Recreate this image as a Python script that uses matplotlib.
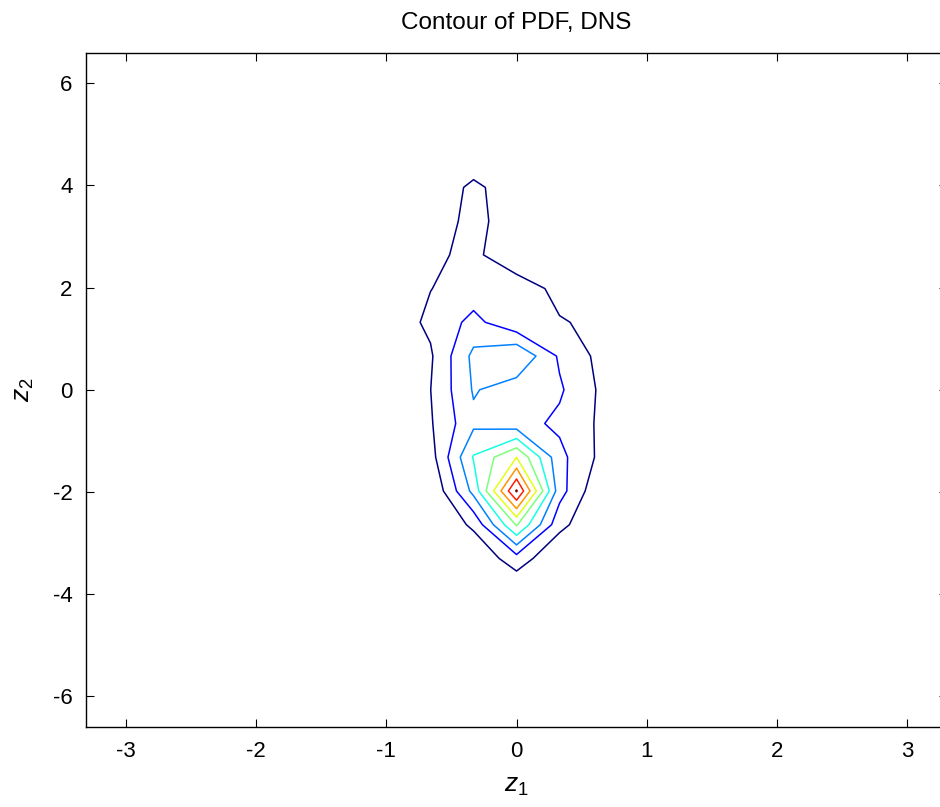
import numpy as np
import matplotlib
matplotlib.use('Agg')
import matplotlib.pyplot as plt

plt.rcParams['font.family'] = ['Liberation Sans', 'DejaVu Sans']
plt.rcParams['mathtext.fontset'] = 'custom'
plt.rcParams['mathtext.it'] = 'Liberation Sans:italic'
plt.rcParams['mathtext.rm'] = 'Liberation Sans'
plt.rcParams['axes.unicode_minus'] = False

# grid the PDF was evaluated on (21 x 21 points)
z1 = np.linspace(-3.3, 3.3, 21)
z2 = np.linspace(-6.6, 6.6, 21)

# non-zero part of the PDF (1 unit = one contour step), read off the contour crossings
block_z1 = [-0.99, -0.66, -0.33, 0.0, 0.33, 0.66, 0.99]
block_z2 = [4.62, 3.96, 3.30, 2.64, 1.98, 1.32, 0.66, 0.0,
            -0.66, -1.32, -1.98, -2.64, -3.30, -3.96]
pdf_block = [
    [0.00, 0.00, 0.00, 0.00, 0.00,  0.00, 0.00],
    [0.00, 0.00, 1.30, 0.21, 0.00,  0.00, 0.00],
    [0.00, 0.00, 1.55, 0.00, 0.00,  0.00, 0.00],
    [0.00, 0.76, 1.30, 0.00, 0.00,  0.00, 0.00],
    [0.00, 0.98, 1.44, 1.74, 0.62,  0.00, 0.00],
    [0.34, 1.21, 2.30, 1.21, 1.095, 0.71, 0.00],
    [0.00, 0.87, 3.25, 3.95, 1.85,  0.67, 0.00],
    [0.00, 0.99, 3.09, 2.46, 2.14,  0.79, 0.00],
    [0.00, 0.90, 2.78, 2.40, 1.79,  0.80, 0.00],
    [0.00, 0.58, 4.08, 6.00, 2.30,  0.70, 0.00],
    [0.00, 0.02, 3.30, 9.10, 2.40,  0.05, 0.00],
    [0.00, 0.00, 1.20, 5.10, 1.30,  0.00, 0.00],
    [0.00, 0.00, 0.12, 1.60, 0.04,  0.00, 0.00],
    [0.00, 0.00, 0.00, 0.00, 0.00,  0.00, 0.00],
]
pdf_levels = [1, 2, 3, 4, 5, 6, 7, 8, 9]

# put the block into the full grid
pdf = np.zeros((len(z2), len(z1)))
for r, yv in enumerate(block_z2):
    i = np.argmin(np.abs(z2 - yv))
    for c, xv in enumerate(block_z1):
        j = np.argmin(np.abs(z1 - xv))
        pdf[i, j] = pdf_block[r][c]

fig = plt.figure(figsize=(9.4, 8.07), dpi=100)
ax = fig.add_axes([0.092, 0.0991, 0.915, 0.8358])

line_colors = plt.cm.jet(np.linspace(0, 1, len(pdf_levels)))
ax.contour(z1, z2, pdf, levels=pdf_levels, colors=line_colors, linewidths=1.1)

ax.set_xlim(-3.3, 3.3)
ax.set_ylim(-6.6, 6.6)
ax.set_xticks([-3, -2, -1, 0, 1, 2, 3])
ax.set_yticks([-6, -4, -2, 0, 2, 4, 6])
ax.tick_params(direction='in', length=6, width=0.8, top=True, right=True,
               labelsize=16, pad=10)
for s in ax.spines.values():
    s.set_linewidth(1.0)

ax.set_title('Contour of PDF, DNS', fontsize=17.5, pad=17)
ax.set_xlabel(r'$\mathit{z_1}$', fontsize=19, labelpad=9)
ax.set_ylabel(r'$\mathit{z_2}$', fontsize=19, labelpad=12)

fig.savefig('out.png', dpi=100)
